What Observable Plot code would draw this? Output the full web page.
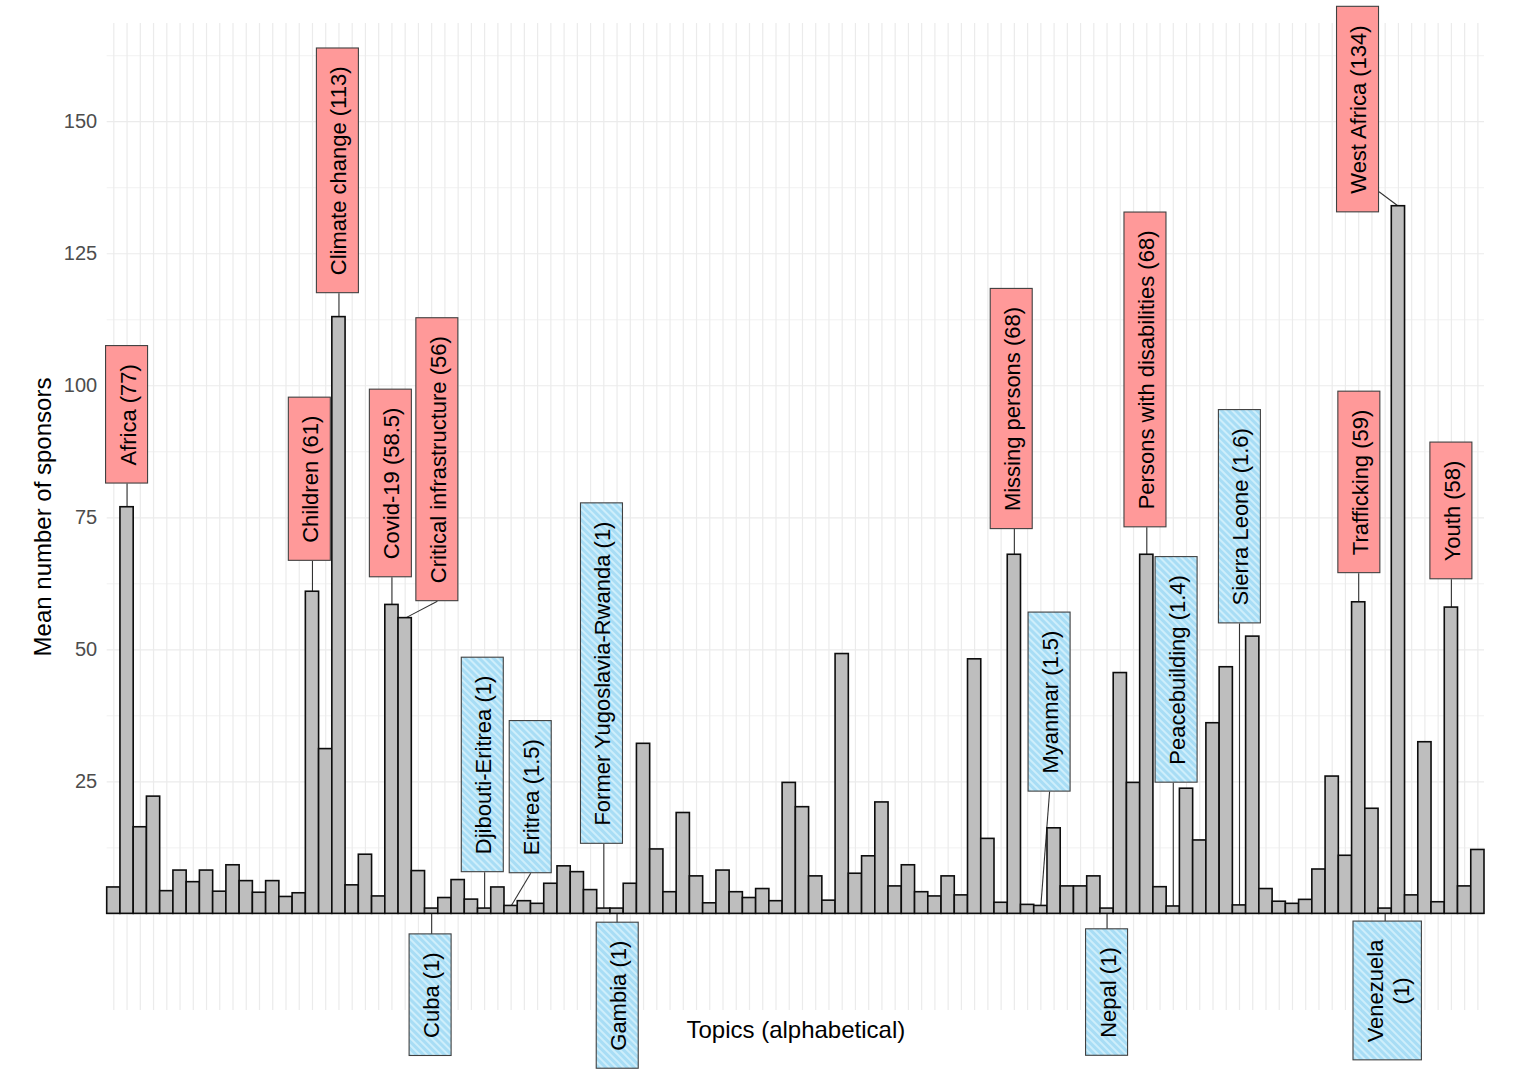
<!DOCTYPE html>
<html>
<head>
<meta charset="utf-8">
<script src="https://cdn.jsdelivr.net/npm/d3@7"></script>
<script src="https://cdn.jsdelivr.net/npm/@observablehq/plot@0.6"></script>
<style>
  html, body { margin: 0; padding: 0; background: #ffffff; }
  #chart { width: 1540px; height: 1078px; }
</style>
</head>
<body>
<div id="chart"></div>
<script>
// ---------------------------------------------------------------
// Data: mean number of sponsors per topic, topics in alphabetical order
// ---------------------------------------------------------------
const sponsors = [
  5, 77, 16.4, 22.2, 4.3, 8.2, 6, 8.2, 4.2, 9.2,
  6.2, 4, 6.2, 3.2, 3.9, 61, 31.2, 113, 5.4, 11.2,
  3.3, 58.5, 56, 8.1, 1, 3, 6.4, 2.7, 1, 5,
  1.5, 2.4, 1.9, 5.7, 9, 7.9, 4.5, 1, 1, 5.7,
  32.2, 12.2, 4.1, 19.1, 7.1, 2, 8.2, 4.1, 3, 4.7,
  2.4, 24.8, 20.2, 7.1, 2.5, 49.2, 7.6, 10.9, 21.1, 5.2,
  9.2, 4.1, 3.3, 7.1, 3.5, 48.2, 14.2, 2.1, 68, 1.7,
  1.5, 16.2, 5.2, 5.2, 7.1, 1, 45.6, 24.8, 68, 5.05,
  1.4, 23.7, 13.9, 36.1, 46.7, 1.6, 52.5, 4.7, 2.3, 1.9,
  2.65, 8.4, 26, 11, 59, 19.9, 1, 134, 3.5, 32.5,
  2.2, 58, 5.2, 12.1
];

// Topics singled out with a label, and their position in the alphabetical list (1-based)
const labelledTopics = [
  "Africa", "Children", "Climate change", "Covid-19", "Critical infrastructure",
  "Cuba", "Djibouti-Eritrea", "Eritrea", "Former Yugoslavia-Rwanda", "Gambia",
  "Missing persons", "Myanmar", "Nepal", "Persons with disabilities", "Peacebuilding",
  "Sierra Leone", "Trafficking", "Venezuela", "West Africa", "Youth"
];
const labelledBars = [2, 16, 18, 22, 23, 25, 29, 31, 38, 39, 69, 71, 76, 79, 81, 86, 95, 97, 98, 102];

const yTicks = [25, 50, 75, 100, 125, 150];

// ---------------------------------------------------------------
// Layout
// ---------------------------------------------------------------
const W = 1540, H = 1078;
const mL = 106.7, mR = 56, mT = 23, mB = 68;
const xDomain = [0.5, sponsors.length + 0.5];
const yDomain = [-18.3, 168.6];

// Label box placement: horizontal shift (in bars) and vertical centre (in sponsors)
const labelShift = [0, -0.2, -0.08, -0.08, 2.43, -0.08, -0.14, 1.48, -0.14, 0.05,
                    -0.2, 0.66, 0, -0.1, 0.25, 0.03, 0.05, 0.19, -3.05, 0];
const labelCentre = [94.5, 82.3, 140.7, 81.5, 86.0, -15.4, 28.2, 22.1, 45.5, -15.5,
                     95.6, 40.1, -14.9, 103.0, 46.2, 75.2, 81.7, -14.6, 152.3, 76.3];
const wrappedTopics = ["Venezuela"];

const labelFont = 22, lineHeight = 1.2;
const padAlong = 18, padAcross = 7.8;
const highFill = "#FF9999";

const kx = (W - mL - mR) / (xDomain[1] - xDomain[0]);
const ky = (H - mT - mB) / (yDomain[1] - yDomain[0]);

const bars = sponsors.map((v, k) => ({i: k + 1, v}));

// measure label text to size the boxes
const ctx = document.createElement("canvas").getContext("2d");
ctx.font = `${labelFont}px "Liberation Sans", Arial, sans-serif`;

const labels = labelledTopics.map((name, k) => {
  const i = labelledBars[k];
  const v = sponsors[i - 1];
  const lines = wrappedTopics.includes(name) ? [name, `(${v})`] : [`${name} (${v})`];
  const along = d3.max(lines, s => ctx.measureText(s).width) + 2 * padAlong;
  const across = lines.length * labelFont * lineHeight + 2 * padAcross;
  const cx = i + labelShift[k];
  const cy = labelCentre[k];
  const hx = across / kx / 2, hy = along / ky / 2;
  const box = {x1: cx - hx, x2: cx + hx, y1: cy - hy, y2: cy + hy};
  // leader from the bar end to the facing side of the box
  const straight = Math.abs(cx - i) < 0.3;
  let ex, ey;
  if (box.y1 > v) { ex = straight ? i : cx; ey = box.y1; }
  else if (box.y2 < v) { ex = straight ? i : cx; ey = box.y2; }
  else { ex = cx < i ? box.x2 : box.x1; ey = v + 0.15 * (cy - v); }
  return {name, i, v, text: lines.join("\n"), cx, cy, ...box, ex, ey,
          low: v < 10};
});

const minorTicks = d3.range(12.5, 170, 25);
const majorTicks = d3.range(0, 151, 25);

const svg = Plot.plot({
  width: W,
  height: H,
  marginLeft: mL,
  marginRight: mR,
  marginTop: mT,
  marginBottom: mB,
  style: {fontFamily: "'Liberation Sans', Arial, sans-serif", background: "#ffffff", overflow: "visible"},
  x: {type: "linear", domain: xDomain, axis: null},
  y: {type: "linear", domain: yDomain, axis: null},
  marks: [
    // panel grid
    Plot.ruleY(minorTicks, {stroke: "#EFEFEF", strokeWidth: 0.9}),
    Plot.ruleY(majorTicks, {stroke: "#EBEBEB", strokeWidth: 1.2}),
    Plot.ruleX(bars, {x: "i", stroke: "#EBEBEB", strokeWidth: 1.2}),
    Plot.axisY(yTicks, {tickSize: 0, tickPadding: 10, fontSize: 20, color: "#4D4D4D", label: null}),
    // leaders
    Plot.link(labels, {x1: "i", y1: "v", x2: "ex", y2: "ey", stroke: "#333333", strokeWidth: 1.1}),
    // bars
    Plot.rect(bars, {x1: d => d.i - 0.5, x2: d => d.i + 0.5, y1: 0, y2: "v",
                     fill: "#BEBEBE", stroke: "#0D0D0D", strokeWidth: 1.6}),
    // label boxes
    Plot.rect(labels.filter(d => !d.low), {x1: "x1", x2: "x2", y1: "y1", y2: "y2",
              fill: highFill, stroke: "#404040", strokeWidth: 1.1}),
    Plot.rect(labels.filter(d => d.low), {x1: "x1", x2: "x2", y1: "y1", y2: "y2",
              fill: "url(#hatch)", stroke: "#404040", strokeWidth: 1.1}),
    Plot.text(labels, {x: "cx", y: "cy", text: "text", rotate: -90, fontSize: labelFont,
              lineHeight, fill: "#000000", textAnchor: "middle", lineAnchor: "middle"}),
    // axis titles
    Plot.text(["Mean number of sponsors"], {text: d => d, frameAnchor: "left", dx: -64, rotate: -90,
              fontSize: 24, fill: "#000000", textAnchor: "middle", lineAnchor: "middle"}),
    Plot.text(["Topics (alphabetical)"], {text: d => d, frameAnchor: "bottom", dy: 20,
              fontSize: 24, fill: "#000000", textAnchor: "middle", lineAnchor: "middle"})
  ]
});

// diagonal hatch used by the low-sponsorship labels
const defs = document.createElementNS("http://www.w3.org/2000/svg", "defs");
defs.innerHTML =
  `<pattern id="hatch" patternUnits="userSpaceOnUse" width="5" height="5" patternTransform="rotate(-45)">
     <rect width="5" height="5" fill="#A8DDF5"></rect>
     <line x1="1" y1="0" x2="1" y2="5" stroke="#D3F0FC" stroke-width="1.8"></line>
   </pattern>`;
svg.insertBefore(defs, svg.firstChild);

document.getElementById("chart").appendChild(svg);
</script>
</body>
</html>
